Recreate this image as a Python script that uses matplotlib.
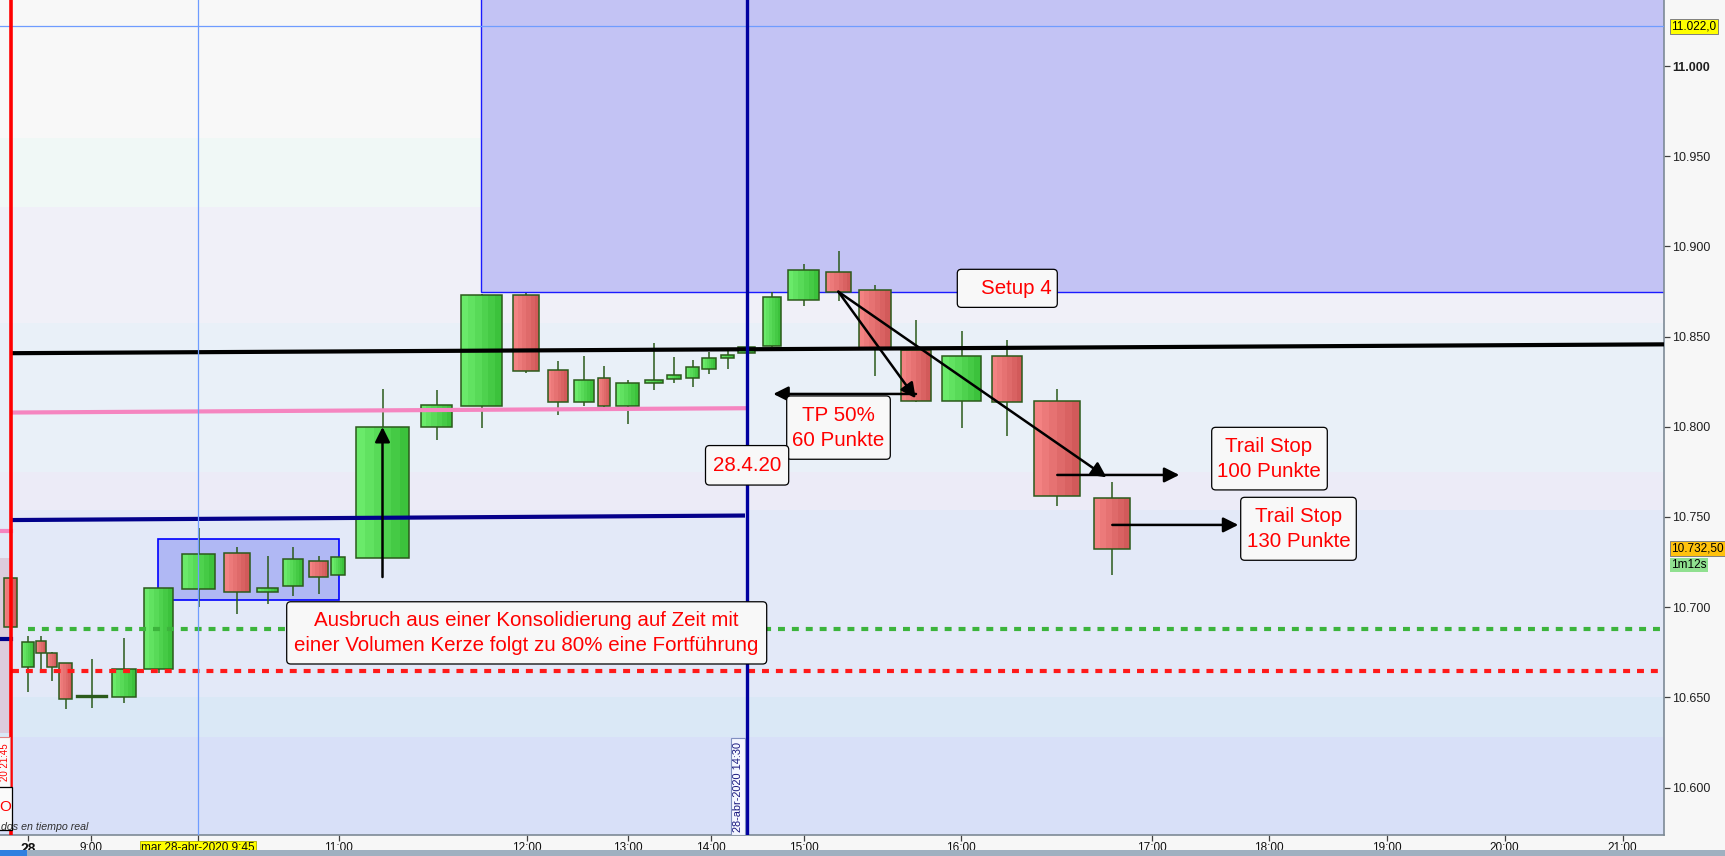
import numpy as np
import matplotlib
matplotlib.use("Agg")
import matplotlib.pyplot as plt
import matplotlib.transforms as mtransforms
from matplotlib.patches import Rectangle, FancyBboxPatch
from matplotlib.colors import to_rgb
from matplotlib import font_manager

plt.rcParams['font.family'] = ['Liberation Sans', 'DejaVu Sans']
plt.rcParams['lines.scale_dashes'] = False

installed = {f.name for f in font_manager.fontManager.ttflist}
narrow = 'Liberation Sans Narrow' if 'Liberation Sans Narrow' in installed else 'Liberation Sans'

# candles on the volume based x scale: centre, body width, OHLC in index points
pos = [10.8, 28, 41, 52, 65.5, 91.5, 124, 158.5, 198.5, 237, 267.5, 293, 318.5, 338,
       382.5, 436.5, 481.5, 526.3, 557.7, 584, 604, 627.5, 654, 674, 692.5, 709, 727.5,
       746.8, 772, 803.5, 838.5, 874.7, 916, 961.5, 1007, 1057, 1112.3]
width = [13, 11.4, 9.4, 9.4, 12.4, 29, 23.4, 28.4, 32.4, 25.4, 20.4, 19.4, 18.4, 13.4,
         52.4, 30.4, 40.4, 26, 20, 19.4, 11.4, 22.4, 17.4, 13.4, 12.4, 13.4, 12.4,
         17, 17.4, 30.4, 24.4, 32, 29.4, 38.4, 29.4, 45.4, 36]
opens = [10716, 10667, 10681, 10674.5, 10669, 10650.5, 10650, 10665.5, 10710, 10730,
         10708.5, 10712, 10725.5, 10718, 10727.5, 10800, 10811.5, 10873, 10831.5, 10813.5,
         10827, 10811.5, 10824.5, 10826.5, 10827, 10832, 10838, 10841, 10845, 10870.5,
         10886, 10876, 10842.5, 10814.5, 10839.5, 10814.5, 10760.5]
highs = [10718, 10684, 10684, 10675, 10669, 10671, 10683, 10710.5, 10744, 10733.5,
         10728.5, 10733.5, 10728.5, 10728, 10821, 10820.5, 10873.5, 10874, 10836.5, 10839,
         10833.5, 10826, 10846.5, 10838.5, 10837, 10841.5, 10843, 10845, 10875, 10890,
         10897.5, 10878.5, 10859, 10853, 10848, 10821, 10769.5]
lows = [10688, 10653, 10666, 10659, 10643.5, 10644, 10647, 10663.5, 10700, 10696,
        10702, 10706, 10707.5, 10718, 10727.5, 10792.5, 10799.5, 10830, 10806.5, 10811.5,
        10808.5, 10801.5, 10820.5, 10824, 10822, 10829, 10832, 10840.5, 10844, 10867,
        10870, 10828, 10814, 10799.5, 10795, 10756, 10718]
closes = [10689, 10680.5, 10674.5, 10667, 10649, 10650.5, 10665.5, 10710.5, 10729.5, 10708.5,
          10710.5, 10726.5, 10716.5, 10728, 10800, 10812, 10873, 10831, 10813.5, 10826,
          10811.5, 10824, 10826, 10828.5, 10833, 10838, 10840, 10844.5, 10872, 10887,
          10875, 10843, 10814.5, 10839, 10813.5, 10761.5, 10732.5]

time_pos = [28, 91, 198.3, 338.5, 527, 627.5, 710.5, 803.5, 961, 1151.5, 1269, 1386.5, 1504.5, 1622.5]
time_labels = ['28', '9:00', 'mar 28-abr-2020 9:45', '11:00', '12:00', '13:00', '14:00',
               '15:00', '16:00', '17:00', '18:00', '19:00', '20:00', '21:00']
price_ticks = [10600, 10650, 10700, 10750, 10800, 10850, 10900, 10950, 11000]

# background volume bands (lower, upper, colour)
bands = [(10500, 10628, '#d8e0f8'), (10628, 10650, '#dae8f6'), (10650, 10754, '#e3e9f8'),
         (10754, 10775, '#ecebf7'), (10775, 10857.5, '#e9f0f8'), (10857.5, 10922, '#f0f0f8'),
         (10922, 10960, '#f0f8f6'), (10960, 11100, '#f8f8f8')]

# drawn levels: x0, x1, price0, price1, colour, width
levels = [(11, 1664, 10840.8, 10845.7, 'black', 3.0),
          (11, 746.7, 10807.9, 10810.3, '#f585c0', 3.0),
          (11, 745, 10748.3, 10750.8, '#00008b', 3.0)]
green_level = 10687.8
red_level = 10664.6
cross_x, cross_price = 198.3, 11022
session_x, entry_x = 11, 746.7
last_price = 10732.5

fig = plt.figure(figsize=(17.25, 8.56), dpi=100, facecolor='#f7f7f7')
ax = fig.add_axes([0, 21 / 856, 1664 / 1725, 835 / 856])
ax.set_xlim(0, 1664)
ax.set_ylim(10573.7, 11036.6)

for lo, hi, c in bands:
    ax.axhspan(lo, hi, color=c, lw=0, zorder=0)

# previous session shading at the far left
ax.add_patch(Rectangle((-5, 10630), 16, 97, fc='#dccbdc', ec='none', zorder=0.5))
ax.plot([0, 11], [10742.1, 10742.1], color='#f585c0', lw=3, zorder=5)
ax.plot([0, 11], [10682.3, 10682.3], color='#00008b', lw=3, zorder=5)

# zones
ax.add_patch(Rectangle((481, 10875), 1200, 300, fc='#c3c3f4', ec='#1a1aff', lw=1, zorder=1))
ax.add_patch(Rectangle((158.3, 10703.8), 180.4, 33.8, fc='#b0b8f4', ec='#0000ff', lw=1.2, zorder=1))

edge = '#2b5a1b'
ax.vlines(pos, lows, highs, color=edge, lw=1.1, zorder=3)
for x, w, o, h, l, c in zip(pos, width, opens, highs, lows, closes):
    if o == c:
        ax.plot([x - w / 2, x + w / 2], [o, o], color=edge, lw=2.4, zorder=4)
        continue
    lo_, hi_ = min(o, c), max(o, c)
    if c > o:
        cl, cr = np.array(to_rgb('#6aea6a')), np.array(to_rgb('#3cc23c'))
    else:
        cl, cr = np.array(to_rgb('#f38282')), np.array(to_rgb('#d25a5a'))
    edges = np.linspace(x - w / 2, x + w / 2, 7)
    for i in range(6):
        t = i / 5
        ax.add_patch(Rectangle((edges[i], lo_), edges[i + 1] - edges[i], hi_ - lo_,
                               fc=cl * (1 - t) + cr * t, ec='none', zorder=4))
    ax.add_patch(Rectangle((x - w / 2, lo_), w, hi_ - lo_, fc='none', ec=edge, lw=1.1, zorder=4.1))

for x0, x1, p0, p1, c, lw in levels:
    ax.plot([x0, x1], [p0, p1], color=c, lw=lw, zorder=5, solid_capstyle='butt')
ax.plot([28, 1664], [green_level] * 2, color='#3cb43c', lw=3, dashes=(5, 5), zorder=5)
ax.plot([12, 1664], [red_level] * 2, color='#ff1a1a', lw=3, dashes=(5, 5), zorder=5)

ax.axvline(cross_x, color='#6f9cff', lw=0.9, zorder=5.5)
ax.axhline(cross_price, color='#6f9cff', lw=0.9, zorder=5.5)
ax.axvline(session_x, color='#ff0000', lw=2.6, zorder=6)
ax.axvline(entry_x, color='#0000a0', lw=2.4, zorder=6)

# arrows
arr = dict(arrowstyle='-|>,head_length=0.9,head_width=0.45', color='black', lw=1.8,
           shrinkA=0, shrinkB=0)
arrows = [((382.5, 10716.7), (382.5, 10799.9)),
          ((838.3, 10874.9), (915.7, 10815.8)),
          ((838.3, 10874.9), (1106.5, 10772.0)),
          ((916, 10818.2), (773.3, 10818.2)),
          ((1057.3, 10773.3), (1179.3, 10773.3)),
          ((1112.3, 10745.6), (1238.3, 10745.6))]
for start, end in arrows:
    ax.annotate('', xy=end, xytext=start, arrowprops=arr, zorder=7)

# note boxes: x0, x1, price_low, price_high, text x, text
notes = [(957.3, 1057.3, 10866.2, 10887.3, 1016, 'Setup 4'),
         (786.7, 890.3, 10782.0, 10817.1, 838.5, 'TP 50%\n60 Punkte'),
         (705.5, 788.7, 10767.7, 10789.6, 746.8, '28.4.20'),
         (1211.7, 1327.3, 10765.0, 10799.7, 1268.5, 'Trail Stop\n100 Punkte'),
         (1240.7, 1356.3, 10726.0, 10760.9, 1298.5, 'Trail Stop\n130 Punkte'),
         (286.7, 766.7, 10668.5, 10703.0, 526.5,
          'Ausbruch aus einer Konsolidierung auf Zeit mit\neiner Volumen Kerze folgt zu 80% eine Fortführung')]
for x0, x1, p0, p1, tx, txt in notes:
    ax.add_patch(FancyBboxPatch((x0, p0), x1 - x0, p1 - p0,
                                boxstyle='round,pad=0,rounding_size=4', mutation_aspect=0.554,
                                fc='#f8f8f8', ec='black', lw=0.9, zorder=8))
    ax.text(tx, (p0 + p1) / 2, txt, color='#ff0000', fontsize=14.8, ha='center', va='center',
            linespacing=1.4, zorder=9)

# small vertical date tags
ax.add_patch(Rectangle((730.7, 10573.7), 14.3, 53.5, fc='#f4f6ff', ec='#8090c0', lw=0.8, zorder=8))
ax.text(738, 10600.6, '28-abr-2020 14:30', rotation=90, color='#1a1a80', fontsize=7.9,
        ha='center', va='center', zorder=9)
ax.add_patch(Rectangle((-10, 10600.5), 19.5, 27.5, fc='#fafafa', ec='#e08080', lw=0.8, zorder=8))
ax.text(5, 10614, '20 21:45', rotation=90, color='#ff0000', fontsize=7,
        ha='center', va='center', zorder=9)
ax.add_patch(Rectangle((-10, 10576.5), 21.7, 24, fc='#fafafa', ec='black', lw=0.9, zorder=8))
ax.text(5.5, 10589, 'O', color='#ff0000', fontsize=11, ha='center', va='center', zorder=9)
ax.text(1, 10578.2, 'dos en tiempo real', style='italic', color='#303030', fontsize=7.7,
        ha='left', va='center', zorder=9)

# axes styling
for s in ['left', 'top']:
    ax.spines[s].set_visible(False)
for s in ['right', 'bottom']:
    ax.spines[s].set_color('#7d8a96')
    ax.spines[s].set_linewidth(1.2)
ax.yaxis.tick_right()
ax.set_yticks(price_ticks)
ax.set_yticklabels([f'{v:,.0f}'.replace(',', '.') for v in price_ticks], fontsize=9, color='#202020')
ax.get_yticklabels()[-1].set_fontweight('bold')
ax.tick_params(axis='y', length=4, width=0.9, color='#404040', pad=2)
ax.set_xticks(time_pos)
ax.set_xticklabels(time_labels, fontsize=8.5, family=narrow, color='#101010')
ax.tick_params(axis='x', length=4, width=0.9, color='#404040', pad=1)
xl = ax.get_xticklabels()
xl[0].set_fontweight('bold')
xl[0].set_fontsize(10)
xl[2].set_bbox(dict(boxstyle='square,pad=0.1', fc='#ffff00', ec='#b0b000', lw=0.6))

# price tags on the right scale
trans = mtransforms.blended_transform_factory(ax.transAxes, ax.transData)
tags = [(cross_price, '11.022,0', '#ffff00'), (last_price, '10.732,50', '#ffc20e'),
        (10723.4, '1m12s', '#90e090')]
for p, t, c in tags:
    ax.text(1.0 + 7 / 1664, p, t, transform=trans, fontsize=8.5, ha='left', va='center',
            color='black', clip_on=False, zorder=10,
            bbox=dict(boxstyle='square,pad=0.12', fc=c, ec='#808080' if c != '#90e090' else 'none', lw=0.7))

# scrollbar strip at the bottom
fig.patches.append(Rectangle((0, 0), 1, 6 / 856, transform=fig.transFigure, fc='#9fb0c0', ec='none'))
fig.patches.append(Rectangle((0, 0), 27 / 1725, 6 / 856, transform=fig.transFigure, fc='#3080e0', ec='none'))

fig.savefig('out.png', dpi=100, facecolor=fig.get_facecolor())
